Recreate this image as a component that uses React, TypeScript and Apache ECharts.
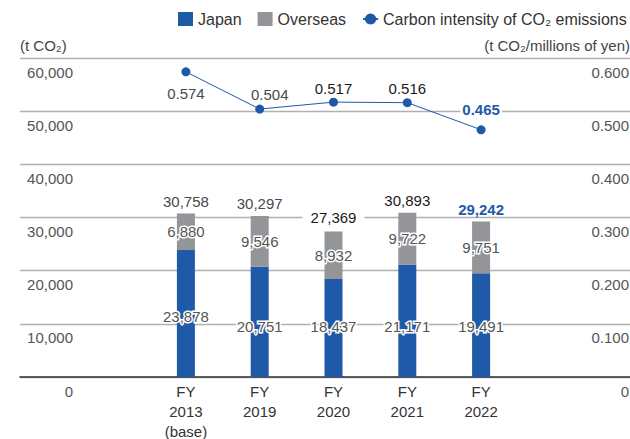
import React, { useEffect, useRef } from "react";
import * as echarts from "echarts";

const categories = ["FY\n2013\n(base)", "FY\n2019", "FY\n2020", "FY\n2021", "FY\n2022"];
const japan = [23878, 20751, 18437, 21171, 19491];
const overseas = [6880, 9546, 8932, 9722, 9751];
const totals = [30758, 30297, 27369, 30893, 29242];
const intensity = [0.574, 0.504, 0.517, 0.516, 0.465];

const BLUE = "#1f5aa8";
const GRAY = "#939598";
const FONT = "Liberation Sans, Arial, sans-serif";

const fmt = (v: number) => v.toLocaleString("en-US");

export default function App() {
  const ref = useRef<HTMLDivElement>(null);
  useEffect(() => {
    if (!ref.current) return;
    const chart = echarts.init(ref.current, undefined, { renderer: "svg" });
    const labelBase = {
      fontSize: 15,
      fontFamily: FONT,
      color: "#555",
      textBorderColor: "#fff",
      textBorderWidth: 3,
    };
    const totalColors = ["#4a4a4a", "#4a4a4a", "#1a1a1a", "#1a1a1a", BLUE];
    const totalWeights = ["normal", "normal", "normal", "normal", "bold"];
    const lineLabelPos = [
      { position: "bottom", distance: 10, offset: [0, 0] },
      { position: "top", distance: 3, offset: [10, 0] },
      { position: "top", distance: 2, offset: [0, 0] },
      { position: "top", distance: 2, offset: [0, 0] },
      { position: "top", distance: 8, offset: [0, 0] },
    ];
    chart.setOption({
      animation: false,
      textStyle: { fontFamily: FONT },
      legend: {
        left: 178,
        top: 11,
        width: 600,
        padding: 0,
        itemWidth: 15,
        itemHeight: 14,
        itemGap: 16,
        textStyle: { fontSize: 16, color: "#333", fontFamily: FONT },
        data: [
          { name: "Japan", icon: "rect" },
          { name: "Overseas", icon: "rect" },
          { name: "Carbon intensity of CO₂ emissions" },
        ],
      },
      grid: [
        { left: 20, right: 0, top: 58, bottom: 62, containLabel: false, outerBoundsMode: "none" },
        { left: 149, width: 369, top: 58, bottom: 62, containLabel: false, outerBoundsMode: "none" },
      ],
      xAxis: [
        {
          gridIndex: 0,
          type: "value",
          min: 0,
          max: 1,
          axisLine: { show: true, lineStyle: { color: "#333", width: 1.5 } },
          axisTick: { show: false },
          axisLabel: { show: false },
          splitLine: { show: false },
        },
        {
          gridIndex: 1,
          type: "category",
          data: categories,
          axisLine: { show: false },
          axisTick: { show: false },
          axisLabel: {
            fontSize: 15,
            lineHeight: 20,
            color: "#333",
            margin: 4,
            fontFamily: FONT,
          },
        },
      ],
      yAxis: [
        {
          gridIndex: 0,
          type: "value",
          min: 0,
          max: 60000,
          interval: 10000,
          name: "(t CO₂)",
          nameLocation: "end",
          nameGap: 5,
          nameMoveOverlap: false,
          nameTextStyle: { align: "left", fontSize: 15, color: "#444", fontFamily: FONT },
          axisLine: { show: false },
          axisTick: { show: false },
          axisLabel: {
            inside: true,
            align: "right",
            margin: 53,
            verticalAlign: "top",
            lineHeight: 28,
            fontSize: 15,
            color: "#555",
            fontFamily: FONT,
            formatter: (v: number) => fmt(v),
          },
          splitLine: { show: true, lineStyle: { color: "#b0b0b0", width: 1.3 } },
        },
        {
          gridIndex: 0,
          type: "value",
          position: "right",
          min: 0,
          max: 0.6,
          interval: 0.1,
          name: "(t CO₂/millions of yen)",
          nameLocation: "end",
          nameGap: 5,
          nameMoveOverlap: false,
          nameTextStyle: { align: "right", fontSize: 15, color: "#444", fontFamily: FONT },
          axisLine: { show: false },
          axisTick: { show: false },
          axisLabel: {
            inside: true,
            align: "right",
            margin: 1,
            verticalAlign: "top",
            lineHeight: 28,
            fontSize: 15,
            color: "#555",
            fontFamily: FONT,
            formatter: (v: number) => (v === 0 ? "0" : v.toFixed(3)),
          },
          splitLine: { show: false },
        },
        { gridIndex: 1, type: "value", min: 0, max: 60000, interval: 10000, show: false, splitLine: { show: false } },
        { gridIndex: 1, type: "value", min: 0, max: 0.6, interval: 0.1, show: false, splitLine: { show: false } },
      ],
      series: [
        {
          name: "Japan",
          type: "bar",
          xAxisIndex: 1,
          yAxisIndex: 2,
          stack: "total",
          barWidth: 18,
          itemStyle: { color: BLUE },
          label: {
            show: true,
            position: "insideBottom",
            distance: 43,
            ...labelBase,
            formatter: (p: any) => fmt(p.value),
          },
          data: japan.map((v, i) => ({
            value: v,
            label: i === 0 ? { offset: [0, -10] } : {},
          })),
        },
        {
          name: "Overseas",
          type: "bar",
          xAxisIndex: 1,
          yAxisIndex: 2,
          stack: "total",
          barWidth: 18,
          itemStyle: { color: GRAY },
          label: {
            show: true,
            position: "inside",
            ...labelBase,
            formatter: (p: any) => fmt(p.value),
          },
          data: overseas,
        },
        {
          name: "Total",
          type: "scatter",
          xAxisIndex: 1,
          yAxisIndex: 2,
          symbolSize: 1,
          itemStyle: { color: "rgba(0,0,0,0)", opacity: 1 },
          silent: true,
          z: 5,
          label: {
            show: true,
            position: "top",
            distance: 4,
            fontSize: 15,
            fontFamily: FONT,
            formatter: (p: any) => fmt(p.value[1]),
          },
          data: totals.map((v, i) => ({
            value: [i, v],
            label: {
              color: totalColors[i],
              fontWeight: totalWeights[i],
              backgroundColor: i === 2 ? "#fff" : "transparent",
              padding: i === 2 ? [2, 8] : 0,
            },
          })),
        },
        {
          name: "Carbon intensity of CO₂ emissions",
          type: "line",
          xAxisIndex: 1,
          yAxisIndex: 3,
          z: 6,
          symbol: "circle",
          symbolSize: 9,
          itemStyle: { color: BLUE },
          lineStyle: { color: BLUE, width: 1 },
          label: {
            show: true,
            fontSize: 15,
            fontFamily: FONT,
            formatter: (p: any) => p.value.toFixed(3),
          },
          data: intensity.map((v, i) => ({
            value: v,
            label: {
              position: lineLabelPos[i].position,
              distance: lineLabelPos[i].distance,
              offset: lineLabelPos[i].offset,
              color: totalColors[i],
              fontWeight: totalWeights[i],
              backgroundColor: i === 4 ? "#fff" : "transparent",
              padding: i === 4 ? [0, 2] : 0,
            },
          })),
        },
      ],
    });
    return () => chart.dispose();
  }, []);
  return <div ref={ref} style={{ width: 630, height: 439, position: "absolute", left: 0, top: 0 }} />;
}
